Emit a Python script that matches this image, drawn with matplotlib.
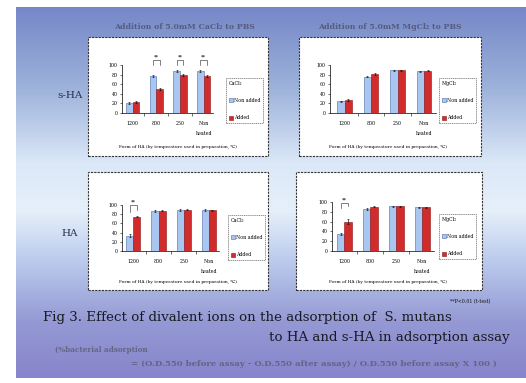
import numpy as np
import matplotlib
matplotlib.use("Agg")
import matplotlib.pyplot as plt
from matplotlib.patches import Rectangle, Patch
from matplotlib.colors import LinearSegmentedColormap

W, H = 526, 383

# ---- data -------------------------------------------------------------
categories = ["1200", "800", "250", "Non\nheated"]

# s-HA, CaCl2
ca_sha_non = [20, 78, 88, 88]
ca_sha_non_err = [2, 2, 2, 2]
ca_sha_add = [23, 50, 80, 78]
ca_sha_add_err = [2, 3, 2, 2]
ca_sha_sig = [1, 2, 3]

# s-HA, MgCl2
mg_sha_non = [24, 76, 89, 87]
mg_sha_non_err = [2, 2, 1, 1]
mg_sha_add = [27, 82, 89, 88]
mg_sha_add_err = [3, 2, 1, 1]
mg_sha_sig = []

# HA, CaCl2
ca_ha_non = [33, 87, 90, 90]
ca_ha_non_err = [3, 2, 2, 2]
ca_ha_add = [75, 88, 90, 89]
ca_ha_add_err = [2, 1, 1, 1]
ca_ha_sig = [0]

# HA, MgCl2
mg_ha_non = [35, 85, 91, 89]
mg_ha_non_err = [2, 2, 1, 1]
mg_ha_add = [60, 90, 91, 89]
mg_ha_add_err = [5, 1, 1, 1]
mg_ha_sig = [0]

yticks = [0, 20, 40, 60, 80, 100]

BLUE = "#a8c6f0"
BLUE_EDGE = "#4a6aa8"
RED = "#d12b2b"
RED_EDGE = "#8a1515"
SERIF = ["DejaVu Serif"]

fig = plt.figure(figsize=(W / 100, H / 100), dpi=100)
fig.patch.set_facecolor("white")


def px_axes(left, top, right, bottom, **kw):
    return fig.add_axes([left / W, 1 - bottom / H, (right - left) / W, (bottom - top) / H], **kw)


# ---- slide background -------------------------------------------------
bg = px_axes(16, 7, 526, 378)
stops = [
    (0.00, (0.46, 0.53, 0.78)),
    (0.22, (0.62, 0.70, 0.86)),
    (0.42, (0.86, 0.91, 0.97)),
    (0.55, (0.90, 0.94, 0.98)),
    (0.68, (0.74, 0.80, 0.93)),
    (0.85, (0.58, 0.60, 0.83)),
    (1.00, (0.53, 0.52, 0.80)),
]
cmap = LinearSegmentedColormap.from_list("slide", stops)
grad = np.linspace(0, 1, 256)[:, None] * np.ones((1, 4))
bg.imshow(grad, aspect="auto", cmap=cmap, extent=[0, 1, 1, 0])
bg.set_xlim(0, 1)
bg.set_ylim(1, 0)
bg.axis("off")

# white panel boxes with dashed borders
for (l, t, r, b) in [(88, 37, 268, 156), (299, 37, 481, 156),
                     (88, 172, 268, 290), (296, 172, 482, 290)]:
    fig.patches.append(Rectangle((l / W, 1 - b / H), (r - l) / W, (b - t) / H,
                                 transform=fig.transFigure, facecolor="white",
                                 edgecolor="#333333", linestyle=(0, (2, 1)),
                                 linewidth=0.8, zorder=1))


def panel(box, non, non_err, add, add_err, sig, xlim, ion, legend_px, caption_px, sig_levels):
    ax = px_axes(*box)
    ax.set_zorder(3)
    ax.patch.set_alpha(0)
    x = np.arange(len(categories))
    w = 0.28
    ax.bar(x - w / 2, non, w, yerr=non_err, color=BLUE, edgecolor=BLUE_EDGE,
           linewidth=0.4, error_kw=dict(elinewidth=0.4, capsize=1, capthick=0.4))
    ax.bar(x + w / 2, add, w, yerr=add_err, color=RED, edgecolor=RED_EDGE,
           linewidth=0.4, error_kw=dict(elinewidth=0.4, capsize=1, capthick=0.4))
    ax.set_xlim(*xlim)
    ax.set_ylim(0, 100)
    ax.set_yticks(yticks)
    ax.set_yticklabels([str(v) for v in yticks], fontsize=3.4, family=SERIF)
    ax.set_xticks(x)
    ax.set_xticklabels(categories, fontsize=3.4, family=SERIF, linespacing=2.2, va="top")
    ax.set_xticks([0.5, 1.5, 2.5], minor=True)
    ax.tick_params(axis="x", which="major", length=0, pad=6)
    ax.tick_params(axis="x", which="minor", length=2, width=0.4)
    ax.tick_params(axis="y", length=1.5, width=0.4, pad=1.5)
    for s in ("top", "right"):
        ax.spines[s].set_visible(False)
    for s in ("left", "bottom"):
        ax.spines[s].set_linewidth(0.5)
    # significance brackets
    for i, lv in zip(sig, sig_levels):
        top, l0, r0 = lv
        ax.plot([i - w / 2, i - w / 2, i + w / 2, i + w / 2], [l0, top, top, r0],
                color="#222222", linewidth=0.4, clip_on=False)
        ax.text(i, top + 1.5, "**", ha="center", va="bottom", fontsize=3.5,
                family=SERIF, clip_on=False)
    handles = [Patch(facecolor=BLUE, edgecolor=BLUE_EDGE, linewidth=0.4),
               Patch(facecolor=RED, edgecolor=RED_EDGE, linewidth=0.4)]
    leg = fig.legend(handles, ["Non added", "Added"], title=ion,
                     loc="upper left",
                     bbox_to_anchor=(legend_px[0] / W, 1 - legend_px[1] / H),
                     bbox_transform=fig.transFigure,
                     prop=dict(family=SERIF, size=3.4), title_fontsize=3.4,
                     handlelength=0.9, handleheight=0.9, handletextpad=0.3,
                     labelspacing=2.6, borderpad=0.5, fancybox=False,
                     alignment="left", frameon=True)
    leg.get_title().set_family(SERIF)
    fr = leg.get_frame()
    fr.set_linestyle((0, (2, 1)))
    fr.set_linewidth(0.5)
    fr.set_edgecolor("#444444")
    leg.set_zorder(4)
    fig.text(caption_px[0] / W, 1 - caption_px[1] / H,
             "Form of HA (by temperature used in preparation, \u2103)",
             ha="center", va="center", fontsize=3.2, family=SERIF, zorder=4)
    return ax


panel((122, 65, 213, 113), ca_sha_non, ca_sha_non_err, ca_sha_add, ca_sha_add_err,
      ca_sha_sig, (-0.45, 3.4), "CaCl\u2082", (224, 76), (178, 147),
      [(110, 101, 101), (110, 101, 101), (110, 101, 101)])
panel((330, 65, 436, 113), mg_sha_non, mg_sha_non_err, mg_sha_add, mg_sha_add_err,
      mg_sha_sig, (-0.55, 3.45), "MgCl\u2082", (437, 76), (388, 147), [])
panel((122, 205, 219, 251), ca_ha_non, ca_ha_non_err, ca_ha_add, ca_ha_add_err,
      ca_ha_sig, (-0.45, 3.4), "CaCl\u2082", (226, 213), (178, 282),
      [(100, 84, 90)])
panel((332, 202, 434, 251), mg_ha_non, mg_ha_non_err, mg_ha_add, mg_ha_add_err,
      mg_ha_sig, (-0.48, 3.45), "MgCl\u2082", (437, 212), (388, 282),
      [(98, 88, 91)])

# ---- slide texts ------------------------------------------------------
title_kw = dict(ha="center", va="center", fontsize=5.6, family=SERIF,
                color="#4a4a66", fontweight="bold", alpha=0.75)
fig.text(184 / W, 1 - 27 / H, "Addition of 5.0mM CaCl\u2082 to PBS", **title_kw)
fig.text(390 / W, 1 - 27 / H, "Addition of 5.0mM MgCl\u2082 to PBS", **title_kw)

row_kw = dict(ha="center", va="center", fontsize=7.5, family=SERIF, color="#2a3050")
fig.text(70 / W, 1 - 96 / H, "s-HA", **row_kw)
fig.text(70 / W, 1 - 233 / H, "HA", **row_kw)

fig.text(490 / W, 1 - 302 / H, "**P<0.01 (t-test)", ha="right", va="center",
         fontsize=3.4, family=SERIF, color="#111111")

fig.text(43 / W, 1 - 318 / H,
         "Fig 3. Effect of divalent ions on the adsorption of  S. mutans",
         ha="left", va="center", fontsize=9.6, family=SERIF, color="#1a1a22")
fig.text(510 / W, 1 - 337 / H, "to HA and s-HA in adsorption assay",
         ha="right", va="center", fontsize=9.6, family=SERIF, color="#1a1a22")

note_kw = dict(va="center", family=SERIF, color="#5a5a72",
               fontweight="bold", alpha=0.8)
fig.text(55 / W, 1 - 350 / H, "(%bacterial adsorption", ha="left",
         fontsize=5.2, **note_kw)
fig.text(497 / W, 1 - 364 / H,
         "= (O.D.550 before assay - O.D.550 after assay) / O.D.550 before assay X 100 )",
         ha="right", fontsize=6.1, **note_kw)

fig.savefig("out.png", dpi=100, facecolor="white")
